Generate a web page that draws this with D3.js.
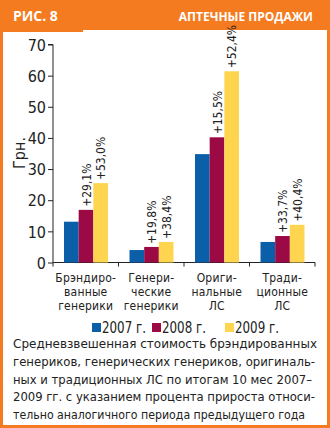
<!DOCTYPE html>
<html lang="ru">
<head>
<meta charset="utf-8">
<title>Рис. 8</title>
<style>
body { margin: 0; background: #fff; }
svg { display: block; }
.tick-label { font-family: "DejaVu Sans Condensed", "DejaVu Sans", sans-serif; fill: #222; }
</style>
</head>
<body>
<div id="chart"></div>
<script src="https://cdnjs.cloudflare.com/ajax/libs/d3/7.8.5/d3.min.js"></script>
<script>
	var categories = [
		["Брэндиро-", "ванные", "генерики"],
		["Генери-", "ческие", "генерики"],
		["Ориги-", "нальные", "ЛС"],
		["Тради-", "ционные", "ЛС"]
	];
	var years = ["2007 г.", "2008 г.", "2009 г."];
	var v2007 = [13.1, 4.0, 34.8, 6.6];
	var v2008 = [16.9, 5.0, 40.2, 8.5];
	var v2009 = [25.5, 6.6, 61.4, 12.1];
	var growth2008 = ["+29,1%", "+19,8%", "+15,5%", "+33,7%"];
	var growth2009 = ["+53,0%", "+38,4%", "+52,4%", "+40,4%"];
	var yTicks = [0, 10, 20, 30, 40, 50, 60, 70];
	var caption = [
		"Средневзвешенная стоимость брэндированных",
		"генериков, генерических генериков, оригиналь-",
		"ных и традиционных ЛС по итогам 10 мес 2007–",
		"2009 гг. с указанием процента прироста относи-",
		"тельно аналогичного периода предыдущего года"
	];

	var colors = ["#0a5fa8", "#9c0a46", "#ffd54f"];
	var orange = "#f47b20";

	var W = 330, H = 428;
	var svg = d3.select("#chart").append("svg")
		.attr("width", W).attr("height", H);

	// frame
	svg.append("rect").attr("x", 0).attr("y", 0).attr("width", W).attr("height", H).attr("fill", orange);
	svg.append("rect").attr("x", 3).attr("y", 30).attr("width", W - 6).attr("height", H - 33).attr("fill", "#fff");
	svg.append("rect").attr("x", 3).attr("y", 30).attr("width", 80).attr("height", 2).attr("fill", orange);

	svg.append("text").text("РИС. 8")
		.attr("x", 13).attr("y", 21)
		.attr("font-family", "'Open Sans', 'DejaVu Sans', sans-serif")
		.attr("font-weight", "bold").attr("font-size", 14).attr("fill", "#fff");
	svg.append("text").text("АПТЕЧНЫЕ ПРОДАЖИ")
		.attr("x", 313).attr("y", 21).attr("text-anchor", "end")
		.attr("font-family", "'Open Sans', 'DejaVu Sans', sans-serif")
		.attr("font-weight", "bold").attr("font-size", 12).attr("fill", "#fff");

	// scales
	var x0 = d3.scaleBand().domain(d3.range(categories.length)).range([53, 315]);
	var x1 = d3.scaleBand().domain(d3.range(3)).range([11, 55]);
	var y = d3.scaleLinear().domain([0, 70]).range([262.5, 44.5]);

	var series = [v2007, v2008, v2009];

	// axes
	var yAxis = svg.append("g").attr("transform", "translate(53,0)")
		.call(d3.axisLeft(y).tickValues(yTicks).tickSize(5).tickPadding(2));
	yAxis.select(".domain").attr("stroke", "#222").attr("d", "M-5," + y(70) + "H0V" + y(0));
	yAxis.selectAll("line").attr("stroke", "#222");
	yAxis.selectAll("text").attr("class", "tick-label").attr("font-size", 16).attr("dy", "0.36em");

	var xAxis = svg.append("g").attr("transform", "translate(0," + y(0) + ")")
		.call(d3.axisBottom(x0).tickSize(0).tickFormat(""));
	xAxis.select(".domain").attr("stroke", "#222").attr("d", "M53,0H315");
	var bounds = [53].concat(x0.domain().map(function(d) { return x0(d) + x0.bandwidth(); }));
	xAxis.selectAll(".sep").data(bounds).enter().append("line")
		.attr("x1", function(d) { return d; }).attr("x2", function(d) { return d; })
		.attr("y1", 0).attr("y2", 4).attr("stroke", "#222");

	svg.append("text").text("Грн.")
		.attr("transform", "translate(25,153) rotate(-90)")
		.attr("text-anchor", "middle")
		.attr("font-family", "'DejaVu Sans Condensed', sans-serif")
		.attr("font-size", 16).attr("fill", "#222");

	// bars
	series.forEach(function(vals, s) {
		svg.append("g").selectAll("rect").data(vals).enter().append("rect")
			.attr("x", function(d, i) { return x0(i) + x1(s); })
			.attr("width", x1.bandwidth())
			.attr("y", function(d) { return y(d); })
			.attr("height", function(d) { return y(0) - y(d); })
			.attr("fill", colors[s]);
	});

	// growth labels
	[[v2008, growth2008, 1], [v2009, growth2009, 2]].forEach(function(g) {
		svg.append("g").selectAll("text").data(g[1]).enter().append("text")
			.text(function(d) { return d; })
			.attr("transform", function(d, i) {
				var cx = x0(i) + x1(g[2]) + x1.bandwidth() / 2 + 4.5;
				return "translate(" + cx + "," + (y(g[0][i]) - 3) + ") rotate(-90)";
			})
			.attr("font-family", "'DejaVu Sans Condensed', sans-serif")
			.attr("font-size", 12).attr("fill", "#222");
	});

	// category labels
	categories.forEach(function(lines, i) {
		var t = svg.append("text")
			.attr("text-anchor", "middle")
			.attr("font-family", "'DejaVu Sans Condensed', sans-serif")
			.attr("font-size", 12).attr("fill", "#222")
			.attr("letter-spacing", 0.2);
		lines.forEach(function(l, k) {
			t.append("tspan").text(l)
				.attr("x", x0(i) + x0.bandwidth() / 2)
				.attr("y", 282 + k * 14);
		});
	});

	// legend
	var legX = [92, 152, 225];
	var legend = svg.append("g").selectAll("g").data(years).enter().append("g")
		.attr("transform", function(d, i) { return "translate(" + legX[i] + ",323)"; });
	legend.append("rect").attr("y", 0).attr("width", 9).attr("height", 9)
		.attr("fill", function(d, i) { return colors[i]; });
	legend.append("text").text(function(d) { return d; })
		.attr("x", 10).attr("y", 10)
		.attr("textLength", 44)
		.attr("lengthAdjust", "spacingAndGlyphs")
		.attr("font-family", "'DejaVu Sans Condensed', sans-serif")
		.attr("font-size", 15).attr("fill", "#222");

	// caption
	var capEnd = [317, 315, 312, 315, 305];
	svg.append("g").selectAll("text").data(caption).enter().append("text")
		.text(function(d) { return d; })
		.attr("x", 13)
		.attr("y", function(d, i) { return 348 + i * 17.8; })
		.attr("textLength", function(d, i) { return capEnd[i] - 13; })
		.attr("lengthAdjust", "spacingAndGlyphs")
		.attr("font-family", "'DejaVu Sans Condensed', sans-serif")
		.attr("font-size", 13).attr("fill", "#222");
</script>
</body>
</html>
